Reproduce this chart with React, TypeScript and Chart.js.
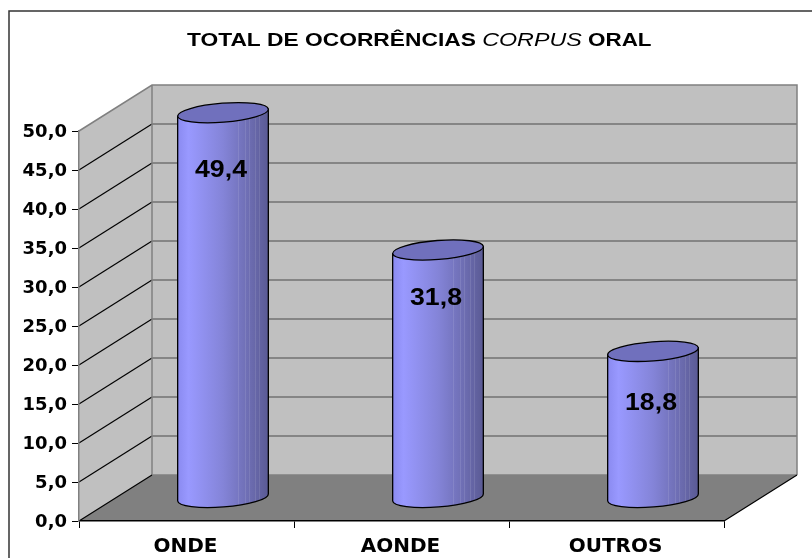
import React, { useEffect, useRef } from "react";
import { Chart, registerables } from "chart.js";

Chart.register(...registerables);

const categories = ["ONDE", "AONDE", "OUTROS"];
const values = [49.4, 31.8, 18.8];
const valueLabels = ["49,4", "31,8", "18,8"];
const yMax = 50;
const yStep = 5;
const titleParts = [
  { text: "TOTAL DE OCORRÊNCIAS ", font: 'bold 18px "Liberation Sans"', stretch: 1.265 },
  { text: "CORPUS", font: 'italic 18px "Liberation Sans"', stretch: 1.294 },
  { text: " ORAL", font: 'bold 18px "Liberation Sans"', stretch: 1.245 },
];
const DEPTH_X = 73;
const DEPTH_Y = -46;
const LABEL_DROP = [35, 25.5, 29.5];
const STRIPES = [0.66, 0.74, 0.79, 0.85, 0.9];

const wallPlugin = {
  id: "walls",
  beforeDraw(chart: any) {
    const { ctx, chartArea: a, scales } = chart;
    const y = scales.y;
    ctx.save();
    ctx.fillStyle = "#fff";
    ctx.fillRect(0, 0, chart.width, chart.height);
    ctx.strokeStyle = "#333";
    ctx.lineWidth = 1.5;
    ctx.strokeRect(9, 11, 1200, 1200);

    const poly = (pts: number[][], fill?: string) => {
      ctx.beginPath();
      pts.forEach((p, i) => (i ? ctx.lineTo(p[0], p[1]) : ctx.moveTo(p[0], p[1])));
      ctx.closePath();
      if (fill) { ctx.fillStyle = fill; ctx.fill(); }
    };
    const bl = a.left, br = a.right, t = a.top, b = a.bottom;
    const dx = DEPTH_X, dy = DEPTH_Y;
    poly([[bl + dx, t + dy], [br + dx, t + dy], [br + dx, b + dy], [bl + dx, b + dy]], "#C0C0C0");
    poly([[bl, t], [bl + dx, t + dy], [bl + dx, b + dy], [bl, b]], "#C0C0C0");
    poly([[bl, b], [br, b], [br + dx, b + dy], [bl + dx, b + dy]], "#808080");

    for (let v = yStep; v < yMax; v += yStep) {
      const py = y.getPixelForValue(v);
      ctx.lineWidth = 1.2;
      ctx.strokeStyle = "#000";
      ctx.beginPath(); ctx.moveTo(bl, py); ctx.lineTo(bl + dx, py + dy); ctx.stroke();
      ctx.lineWidth = 1.2;
      ctx.strokeStyle = "#4a4a4a";
      ctx.beginPath(); ctx.moveTo(bl + dx, py + dy); ctx.lineTo(br + dx, py + dy); ctx.stroke();
    }
    ctx.lineWidth = 1.5;
    ctx.strokeStyle = "#808080";
    ctx.beginPath();
    ctx.moveTo(bl, t); ctx.lineTo(bl + dx, t + dy); ctx.lineTo(br + dx, t + dy); ctx.lineTo(br + dx, b + dy);
    ctx.moveTo(bl + dx, t + dy); ctx.lineTo(bl + dx, b + dy); ctx.lineTo(br + dx, b + dy);
    ctx.stroke();
    ctx.lineWidth = 1.2;
    ctx.strokeStyle = "#000";
    ctx.beginPath();
    ctx.moveTo(bl, b); ctx.lineTo(bl + dx, b + dy);
    ctx.moveTo(br, b); ctx.lineTo(br + dx, b + dy);
    ctx.stroke();

    let x = 187;
    ctx.fillStyle = "#000";
    ctx.textBaseline = "alphabetic";
    ctx.textAlign = "left";
    for (const part of titleParts) {
      ctx.font = part.font;
      ctx.save();
      ctx.translate(x, 46);
      ctx.scale(part.stretch, 1);
      ctx.fillText(part.text, 0, 0);
      ctx.restore();
      x += ctx.measureText(part.text).width * part.stretch;
    }
    ctx.restore();
  },
};

const cylinderPlugin = {
  id: "cylinders",
  beforeDatasetsDraw(chart: any) {
    const { ctx } = chart;
    const meta = chart.getDatasetMeta(0);
    const fill = chart.data.datasets[0].backgroundColor;
    const rot = -4.5 * Math.PI / 180;
    meta.data.forEach((bar: any, i: number) => {
      const cx = bar.x + DEPTH_X / 2;
      const rx = bar.width / 2;
      const ry = 9.5;
      const topY = bar.y + DEPTH_Y / 2;
      const baseY = bar.base + DEPTH_Y / 2;
      const sx = rx * Math.cos(rot);
      const sy = rx * Math.sin(rot);
      const g = ctx.createLinearGradient(cx - rx, 0, cx + rx, 0);
      g.addColorStop(0, "#8a8af0");
      g.addColorStop(0.12, fill);
      g.addColorStop(0.5, "#8484d8");
      g.addColorStop(0.8, "#6c6cb0");
      g.addColorStop(1, "#5a5a94");
      ctx.save();
      const body = new Path2D();
      body.moveTo(cx - sx, topY - sy);
      body.lineTo(cx + sx, topY + sy);
      body.lineTo(cx + sx, baseY + sy);
      body.ellipse(cx, baseY, rx, ry, rot, 0, Math.PI);
      body.closePath();
      ctx.fillStyle = g;
      ctx.fill(body);
      ctx.save();
      ctx.clip(body);
      ctx.strokeStyle = "rgba(255,255,255,0.1)";
      ctx.lineWidth = 1;
      for (const f of STRIPES) {
        const px = Math.round(cx - rx + f * 2 * rx) + 0.5;
        ctx.beginPath(); ctx.moveTo(px, topY); ctx.lineTo(px, baseY + ry); ctx.stroke();
      }
      ctx.restore();
      ctx.strokeStyle = "#000";
      ctx.lineWidth = 1.3;
      ctx.stroke(body);
      ctx.beginPath();
      ctx.ellipse(cx, topY, rx, ry, rot, 0, Math.PI * 2);
      ctx.fillStyle = "#7070bd";
      ctx.fill();
      ctx.stroke();
      ctx.fillStyle = "#000";
      ctx.font = 'bold 23px "Liberation Sans"';
      ctx.textAlign = "center";
      ctx.textBaseline = "middle";
      ctx.translate(cx - 2, bar.y + LABEL_DROP[i]);
      ctx.scale(1.16, 1);
      ctx.fillText(valueLabels[i], 0, 0);
      ctx.restore();
    });
    return false;
  },
};

export default function App() {
  const ref = useRef<HTMLCanvasElement | null>(null);
  useEffect(() => {
    const chart = new Chart(ref.current!, {
      type: "bar",
      data: {
        labels: categories,
        datasets: [{ data: values, backgroundColor: "#9999FF", categoryPercentage: 1, barPercentage: 0.423 }],
      },
      plugins: [wallPlugin, cylinderPlugin],
      options: {
        animation: false,
        responsive: false,
        layout: { padding: { top: 131, right: 88, left: 0, bottom: 0 } },
        plugins: { legend: { display: false }, title: { display: false }, tooltip: { enabled: false } },
        scales: {
          x: {
            grid: { drawOnChartArea: false, offset: true, tickLength: 7, color: "#000", lineWidth: 1 },
            border: { color: "#000", width: 1.5 },
            ticks: { color: "#000", font: { family: "DejaVu Sans", weight: "bold", size: 20 }, padding: 7, maxRotation: 0, labelOffset: -1 },
            afterFit: (s: any) => { s.height = 37; },
          },
          y: {
            min: 0,
            max: yMax,
            grid: { drawOnChartArea: false, tickLength: 7, color: "#000", lineWidth: 1 },
            border: { color: "#808080", width: 1.5 },
            ticks: {
              stepSize: yStep,
              color: "#000",
              padding: 5,
              labelOffset: 1.5,
              font: { family: "DejaVu Sans", weight: "bold", size: 18 },
              callback: (v: any) => Number(v).toFixed(1).replace(".", ","),
            },
            afterFit: (s: any) => { s.width = 79; },
          },
        },
      } as any,
    });
    return () => chart.destroy();
  }, []);
  return <canvas ref={ref} width={812} height={558} style={{ position: "fixed", left: 0, top: 0, width: 812, height: 558 }} />;
}
